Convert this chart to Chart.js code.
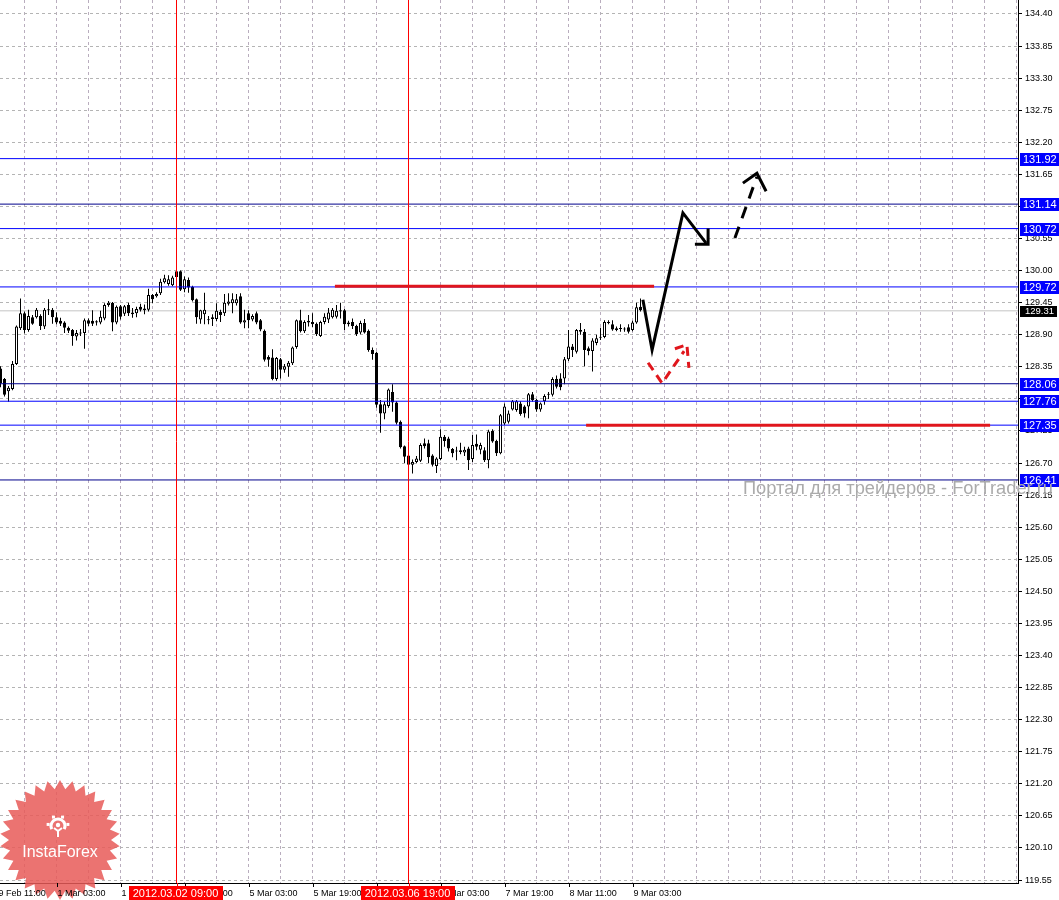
<!DOCTYPE html>
<html lang="ru">
<head>
<meta charset="UTF-8">
<title>EURJPY H1</title>
<script src="https://cdn.jsdelivr.net/npm/chart.js"></script>
<style>
  html, body { margin: 0; padding: 0; background: #fff; }
  #wrap { width: 1059px; height: 900px; }
</style>
</head>
<body>
<div id="wrap"><canvas id="chart" width="1059" height="900"></canvas></div>
<script>
// H1 candles, index 0 = 29 Feb 13:00
const opens = [
  128.32,128.14,127.93,127.97,128.40,129.01,129.27,128.98,129.20,129.20,
  129.22,129.04,129.32,129.33,129.20,129.14,129.11,129.02,128.98,128.87,
  128.94,128.93,129.15,129.14,129.13,129.11,129.18,129.41,129.45,129.11,
  129.39,129.26,129.41,129.28,129.27,129.38,129.32,129.33,129.58,129.56,
  129.61,129.80,129.77,129.75,129.99,129.99,129.68,129.84,129.72,129.51,
  129.16,129.25,129.16,129.20,129.17,129.29,129.27,129.43,129.44,129.44,
  129.56,129.11,129.27,129.16,129.27,129.15,128.97,128.52,128.51,128.14,
  128.48,128.30,128.35,128.41,128.69,129.15,128.96,129.14,129.12,129.09,
  128.88,129.12,129.16,129.20,129.21,129.30,129.32,129.11,129.12,129.05,
  128.94,129.10,128.97,128.64,128.59,127.71,127.55,127.68,127.92,127.74,
  127.41,126.99,126.83,126.67,126.72,126.74,127.04,127.04,126.83,126.65,
  126.77,127.15,127.12,126.94,126.91,126.89,126.88,126.95,126.77,127.03,
  126.93,126.92,126.75,127.25,127.08,126.87,127.38,127.41,127.62,127.61,
  127.72,127.67,127.67,127.88,127.78,127.62,127.76,127.87,127.87,128.14,
  128.15,128.15,128.48,128.70,128.61,128.98,128.95,128.67,128.62,128.76,
  128.85,128.86,129.10,129.08,129.01,129.00,128.99,129.03,128.98,129.11,
  129.38
];
const highs = [
  128.36,128.16,128.02,128.45,129.06,129.52,129.30,129.33,129.24,129.36,
  129.25,129.36,129.51,129.36,129.28,129.19,129.13,129.04,129.00,128.98,
  129.00,129.18,129.18,129.32,129.15,129.31,129.44,129.48,129.46,129.40,
  129.41,129.41,129.45,129.36,129.38,129.43,129.42,129.69,129.60,129.63,
  129.86,129.93,129.92,129.91,130.01,130.00,129.90,129.88,129.74,129.52,
  129.33,129.62,129.22,129.25,129.44,129.33,129.60,129.61,129.61,129.60,
  129.61,129.33,129.32,129.25,129.30,129.17,128.99,128.55,128.65,128.52,
  128.50,128.40,128.45,128.70,129.16,129.33,129.15,129.24,129.27,129.11,
  129.14,129.27,129.36,129.36,129.41,129.45,129.34,129.14,129.18,129.07,
  129.14,129.17,128.99,128.68,128.61,127.78,127.75,127.98,128.05,127.76,
  127.43,127.00,126.85,126.76,126.82,127.04,127.12,127.10,126.85,126.80,
  127.28,127.18,127.15,126.96,126.98,127.05,126.98,126.98,127.18,127.19,
  127.05,126.97,127.27,127.28,127.10,127.54,127.72,127.60,127.78,127.78,
  127.76,127.69,127.90,127.92,127.80,127.74,127.88,127.92,128.17,128.20,
  128.24,128.52,128.98,128.74,129.00,129.10,129.00,128.70,128.84,128.90,
  129.02,129.15,129.15,129.15,129.04,129.08,129.03,129.08,129.14,129.45,
  129.52
];
const lows = [
  128.00,127.84,127.75,127.95,128.38,128.98,128.92,128.95,129.07,129.18,
  128.98,129.00,129.24,129.09,129.08,129.05,128.93,128.93,128.71,128.80,
  128.88,128.66,129.05,129.05,129.06,129.08,129.15,129.38,128.96,129.08,
  129.16,129.22,129.22,129.19,129.20,129.30,129.25,129.30,129.44,129.54,
  129.58,129.78,129.74,129.73,129.85,129.65,129.63,129.62,129.47,129.09,
  129.09,129.08,129.08,129.05,129.13,129.12,129.22,129.40,129.27,129.40,
  129.09,129.01,129.01,129.13,129.08,128.96,128.44,128.35,128.12,128.11,
  128.15,128.25,128.18,128.38,128.66,128.94,128.93,129.04,129.03,128.88,
  128.86,129.08,129.10,129.18,129.18,129.18,128.98,129.04,129.00,128.88,
  128.91,128.92,128.61,128.47,127.65,127.22,127.45,127.65,127.58,127.36,
  126.95,126.70,126.62,126.52,126.70,126.72,126.95,126.70,126.64,126.53,
  126.75,126.98,126.90,126.80,126.75,126.85,126.82,126.58,126.72,126.92,
  126.85,126.72,126.61,127.05,126.82,126.85,127.35,127.38,127.60,127.58,
  127.51,127.48,127.47,127.75,127.58,127.58,127.70,127.80,127.84,127.98,
  127.95,128.05,128.45,128.52,128.58,128.90,128.36,128.55,128.27,128.72,
  128.81,128.84,129.08,128.97,128.96,128.95,128.95,128.92,128.96,129.09,
  129.30
];
const closes = [
  128.07,127.87,127.99,128.40,129.04,129.27,128.98,129.22,129.09,129.33,
  129.05,129.33,129.33,129.20,129.11,129.09,129.02,128.97,128.88,128.93,
  128.92,129.15,129.09,129.09,129.11,129.21,129.41,129.45,129.11,129.38,
  129.21,129.39,129.27,129.25,129.34,129.33,129.35,129.58,129.51,129.60,
  129.81,129.87,129.85,129.88,129.89,129.67,129.85,129.71,129.49,129.20,
  129.32,129.33,129.15,129.17,129.31,129.24,129.45,129.47,129.51,129.51,
  129.11,129.15,129.15,129.22,129.11,128.99,128.47,128.47,128.14,128.50,
  128.30,128.36,128.42,128.68,129.15,128.96,129.12,129.11,129.08,128.91,
  129.12,129.21,129.28,129.33,129.31,129.32,129.08,129.08,129.05,128.91,
  129.10,128.94,128.64,128.57,127.70,127.55,127.71,127.96,127.74,127.39,
  126.97,126.81,126.67,126.72,126.78,127.01,126.99,126.80,126.67,126.78,
  127.15,127.08,126.95,126.87,126.90,126.92,126.93,126.75,127.01,126.98,
  127.01,126.75,127.24,127.07,126.87,127.52,127.67,127.55,127.76,127.76,
  127.54,127.55,127.88,127.78,127.62,127.72,127.85,127.88,128.14,128.01,
  128.00,128.48,128.70,128.64,128.98,128.95,128.64,128.62,128.80,128.84,
  128.86,129.12,129.12,128.99,128.98,129.00,128.99,128.95,129.11,129.37,
  129.32
];

const yTicks = [119.55,120.10,120.65,121.20,121.75,122.30,122.85,123.40,123.95,124.50,
  125.05,125.60,126.15,126.70,127.25,127.80,128.35,128.90,129.45,130.00,
  130.55,131.10,131.65,132.20,132.75,133.30,133.85,134.40];
const xGridIdx = [6,14,22,30,38,46,54,62,70,78,86,94,102,110,118,126,134,142,150,158,
  166,174,182,190,198,206,214,222,230,238,246,254];
const xLabelIdx = [-2,14,30,46,62,78,94,110,126,142,158];
const xLabels = ['29 Feb 11:00','1 Mar 03:00','1 Mar 19:00','2 Mar 11:00','5 Mar 03:00',
  '5 Mar 19:00','6 Mar 11:00','7 Mar 03:00','7 Mar 19:00','8 Mar 11:00','9 Mar 03:00'];

const levelsBlue = [131.92, 130.72, 129.72, 127.76, 127.35];
const levelsDark = [131.14, 128.06, 126.41];
const bidPrice = 129.31;
const markerIdx = [44, 102];
const markerLabels = ['2012.03.02 09:00', '2012.03.06 19:00'];
// [from index, to index, price]
const redSegments = [[83.6, 163.4, 129.73], [146.4, 247.4, 127.35]];
// forecast drawings, [index, price]
const pathMain = [[160.6,129.50],[162.9,128.64],[170.6,130.99],[176.4,130.47]];
const headMain = [[173.6,130.45],[176.9,130.45],[176.9,130.72]];
const pathDash = [[183.6,130.56],[189.1,131.61]];
const headDash = [[185.6,131.50],[189.1,131.67],[191.4,131.36]];
const pathRed = [[161.9,128.42],[165.4,128.07],[170.9,128.62]];
const headRed = [[168.6,128.66],[171.6,128.73],[172.1,128.33]];

const X_MIN = -0.125, X_MAX = 254.375;
const Y_MIN = 119.499, Y_MAX = 134.64;

const idx = opens.map((_, i) => i);
const pts = arr => arr.map(p => ({x: p[0], y: p[1]}));
const hline = p => [{x: X_MIN, y: p}, {x: X_MAX, y: p}];

function lineDs(data, color, width, dash, order) {
  return {
    type: 'line', data: data, borderColor: color, borderWidth: width,
    borderDash: dash || [], pointRadius: 0, fill: false, tension: 0,
    borderCapStyle: 'butt', borderJoinStyle: 'miter', order: order
  };
}

const datasets = [];
datasets.push(lineDs(hline(bidPrice), '#c4c4c4', 1, null, 30));
datasets.push({
  type: 'bar', data: idx.map(i => ({x: i, y: [lows[i], highs[i]]})),
  backgroundColor: '#000', borderWidth: 0, barThickness: 1, grouped: false,
  inflateAmount: 0, order: 21
});
datasets.push({
  type: 'bar', data: idx.map(i => ({x: i, y: [opens[i], closes[i]]})),
  backgroundColor: idx.map(i => closes[i] >= opens[i] ? '#ffffff' : '#000000'),
  borderColor: '#000', borderWidth: 1, borderSkipped: false, barThickness: 3,
  minBarLength: 1, grouped: false, inflateAmount: 0, order: 20
});
levelsBlue.forEach(p => datasets.push(lineDs(hline(p), '#0000ff', 1, null, 8)));
levelsDark.forEach(p => datasets.push(lineDs(hline(p), '#00008b', 1, null, 8)));
markerIdx.forEach(v => datasets.push(lineDs([{x: v, y: Y_MIN}, {x: v, y: Y_MAX}], '#ff0000', 1, null, 7)));
redSegments.forEach(s => datasets.push(lineDs([{x: s[0], y: s[2]}, {x: s[1], y: s[2]}], '#e0161c', 3, null, 6)));
datasets.push(lineDs(pts(pathMain), '#000', 3, null, 2));
datasets.push(lineDs(pts(headMain), '#000', 3, null, 2));
datasets.push(lineDs(pts(pathDash), '#000', 3, [12, 9], 2));
datasets.push(lineDs(pts(headDash), '#000', 3, null, 2));
datasets.push(lineDs(pts(pathRed), '#e0161c', 3, [9, 6], 2));
datasets.push(lineDs(pts(headRed), '#e0161c', 3, [9, 6], 2));

function drawLogo(ctx, cx, cy) {
  ctx.save();
  ctx.beginPath();
  const n = 30, R = 60, r = 51;
  for (let k = 0; k < n * 2; k++) {
    const a = -Math.PI / 2 + k * Math.PI / n;
    const rr = k % 2 ? r : R;
    ctx.lineTo(cx + rr * Math.cos(a), cy + rr * Math.sin(a));
  }
  ctx.closePath();
  ctx.fillStyle = 'rgba(232, 90, 88, 0.85)';
  ctx.fill();
  // icon
  const gx = cx - 2, gy = cy - 14;
  ctx.strokeStyle = '#fff'; ctx.fillStyle = '#fff';
  ctx.lineWidth = 3;
  ctx.beginPath(); ctx.arc(gx, gy, 7, 0.15 * Math.PI, 0.85 * Math.PI, true); ctx.stroke();
  for (let k = 0; k < 7; k++) {
    const a = -Math.PI * 0.95 + k * Math.PI * 0.3;
    if (a > 0.1 && a < Math.PI - 0.1) continue;
    ctx.fillRect(gx + 10 * Math.cos(a) - 1.5, gy + 10 * Math.sin(a) - 1.5, 3, 3);
  }
  ctx.beginPath(); ctx.arc(gx, gy - 1, 2.2, 0, Math.PI * 2); ctx.fill();
  ctx.lineWidth = 2;
  ctx.beginPath();
  ctx.moveTo(gx - 4, gy + 2); ctx.lineTo(gx, gy + 5); ctx.lineTo(gx + 4, gy + 2);
  ctx.moveTo(gx, gy + 5); ctx.lineTo(gx, gy + 11);
  ctx.stroke();
  ctx.font = '16px "Liberation Sans", Arial, sans-serif';
  ctx.textAlign = 'center'; ctx.textBaseline = 'alphabetic';
  ctx.fillText('InstaForex', cx, cy + 17);
  ctx.restore();
}

const overlay = {
  id: 'overlay',
  beforeDraw(chart) {
    const ctx = chart.ctx;
    ctx.save(); ctx.fillStyle = '#fff';
    ctx.fillRect(0, 0, chart.width, chart.height); ctx.restore();
  },
  afterDraw(chart) {
    const {ctx, chartArea: a, scales: {x, y}} = chart;
    ctx.save();
    drawLogo(ctx, 60, 840);

    // time axis labels
    ctx.fillStyle = '#000'; ctx.strokeStyle = '#000'; ctx.lineWidth = 1;
    ctx.font = '9px "Liberation Sans", Arial, sans-serif';
    ctx.textAlign = 'left'; ctx.textBaseline = 'alphabetic';
    xLabelIdx.forEach((v, k) => {
      const px = Math.round(x.getPixelForValue(v)) + 0.5;
      ctx.beginPath(); ctx.moveTo(px, a.bottom); ctx.lineTo(px, a.bottom + 4); ctx.stroke();
      ctx.fillText(xLabels[k], px, a.bottom + 13);
    });

    // vertical line labels
    ctx.font = '11px "Liberation Sans", Arial, sans-serif';
    ctx.textAlign = 'center'; ctx.textBaseline = 'middle';
    markerIdx.forEach((v, k) => {
      const px = Math.round(x.getPixelForValue(v)) + 0.5;
      ctx.strokeStyle = '#ff0000';
      ctx.beginPath(); ctx.moveTo(px, a.bottom); ctx.lineTo(px, a.bottom + 3); ctx.stroke();
      const w = ctx.measureText(markerLabels[k]).width + 8;
      ctx.fillStyle = '#ff0000';
      ctx.fillRect(Math.round(px - w / 2) - 2, a.bottom + 3, Math.round(w), 14);
      ctx.fillStyle = '#fff';
      ctx.fillText(markerLabels[k], px - 2, a.bottom + 10.5);
    });

    // price labels of levels
    ctx.textAlign = 'left';
    levelsBlue.concat(levelsDark).forEach(p => {
      const py = Math.round(y.getPixelForValue(p));
      ctx.fillStyle = '#0000ff';
      ctx.fillRect(a.right + 2, py - 6, 39, 13);
      ctx.fillStyle = '#fff';
      ctx.fillText(p.toFixed(2), a.right + 5, py + 0.5);
    });
    const by = Math.round(y.getPixelForValue(bidPrice));
    ctx.fillStyle = '#000';
    ctx.fillRect(a.right + 2, by - 5, 37, 11);
    ctx.fillStyle = '#fff';
    ctx.font = '9.5px "Liberation Sans", Arial, sans-serif';
    ctx.fillText(bidPrice.toFixed(2), a.right + 7, by + 0.5);

    // watermark
    const wm = 'Портал для трейдеров - ForTrader.ru';
    ctx.font = '15px "Liberation Sans", Arial, sans-serif';
    const fs = 15 * 310 / ctx.measureText(wm).width;
    ctx.font = fs.toFixed(2) + 'px "Liberation Sans", Arial, sans-serif';
    ctx.fillStyle = '#ababab';
    ctx.textBaseline = 'alphabetic';
    ctx.fillText(wm, 743, 494);
    ctx.restore();
  }
};

new Chart(document.getElementById('chart'), {
  type: 'bar',
  data: { datasets: datasets },
  plugins: [overlay],
  options: {
    responsive: false,
    animation: false,
    devicePixelRatio: 1,
    layout: { padding: 0 },
    plugins: { legend: { display: false }, tooltip: { enabled: false } },
    scales: {
      x: {
        type: 'linear', min: X_MIN, max: X_MAX, offset: false,
        afterBuildTicks: s => { s.ticks = xGridIdx.map(v => ({value: v})); },
        afterFit: s => { s.height = 17; s.paddingLeft = 0; s.paddingRight = 0; },
        ticks: { display: false },
        grid: { color: '#b9adbe', drawTicks: false, lineWidth: 1, offset: false },
        border: { display: true, color: '#000', width: 1, dash: [3, 3] }
      },
      y: {
        position: 'right', min: Y_MIN, max: Y_MAX,
        afterBuildTicks: s => { s.ticks = yTicks.map(v => ({value: v})); },
        afterFit: s => { s.width = 41; s.paddingTop = 0; s.paddingBottom = 0; },
        ticks: {
          callback: v => Number(v).toFixed(2), color: '#000', autoSkip: false,
          font: { family: '"Liberation Sans", Arial, sans-serif', size: 9 }, padding: 3
        },
        grid: { color: '#b4b4b4', tickLength: 4, tickColor: '#000', tickBorderDash: [], offset: false },
        border: { display: true, color: '#000', width: 1, dash: [3, 3] }
      }
    }
  }
});
</script>
</body>
</html>
